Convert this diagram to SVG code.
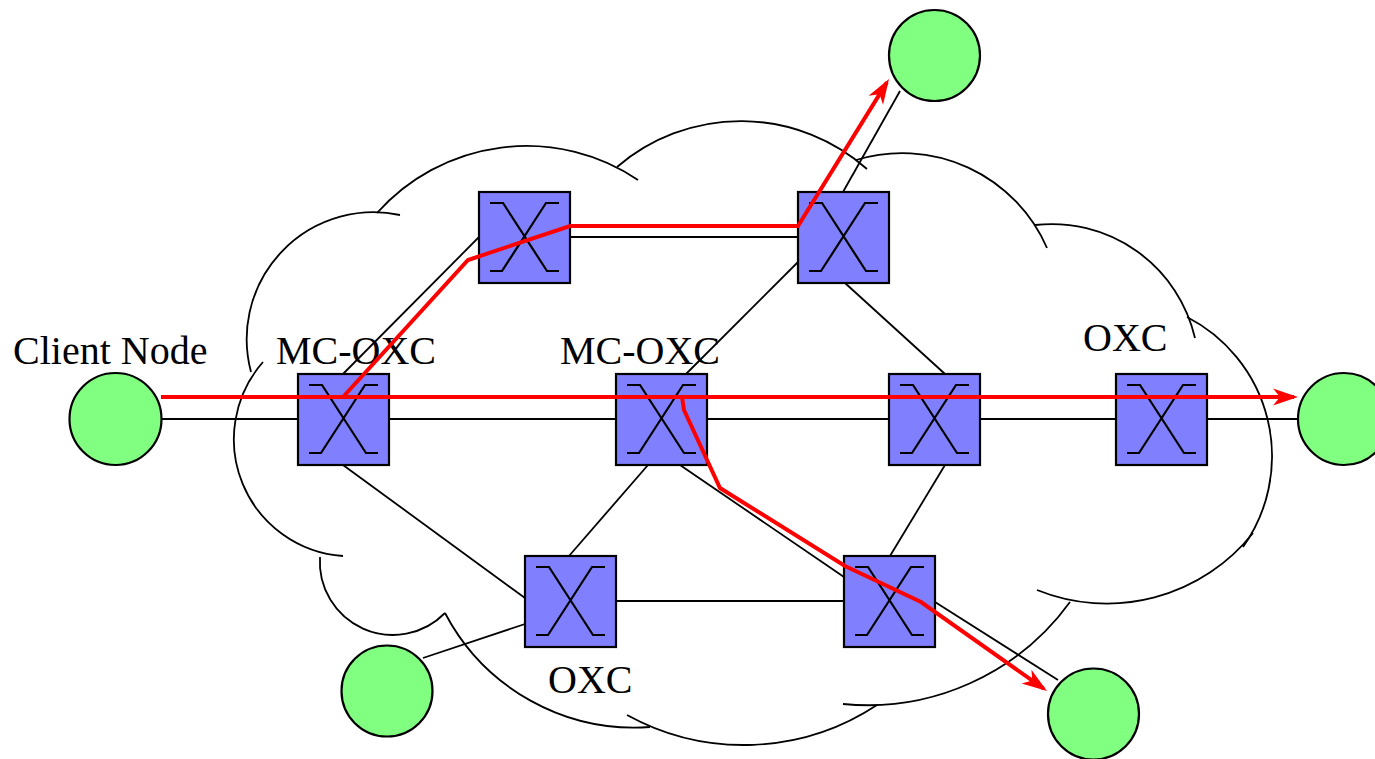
<svg xmlns="http://www.w3.org/2000/svg" xmlns:xlink="http://www.w3.org/1999/xlink" width="1375" height="759" viewBox="0 0 1375 759">
  <style>
    .cloud { fill: none; stroke: #000; stroke-width: 1.8; }
    .link { fill: none; stroke: #000; stroke-width: 1.8; }
    .box { fill: #8080ff; stroke: #000; stroke-width: 2.2; }
    .glyph { fill: none; stroke: #000; stroke-width: 2.2; }
    .client { fill: #80ff80; stroke: #000; stroke-width: 2.2; }
    .path { fill: none; stroke: #ff0000; stroke-width: 4; stroke-linejoin: miter; marker-end: url(#arrow); }
    .label { font-family: "Liberation Serif", "Times New Roman", serif; font-size: 40px; fill: #000; }
  </style>
  <defs>
    <marker id="arrow" markerUnits="userSpaceOnUse" markerWidth="30" markerHeight="22" viewBox="-22 -11 30 22" refX="0" refY="0" orient="auto">
      <path d="M4,0 L-21,-8.5 L-14,0 L-21,8.5 Z" fill="#ff0000"/>
    </marker>
    <!-- optical cross-connect: square with crossed switch glyph -->
    <g id="xc">
      <rect class="box" x="0" y="0" width="91" height="91"/>
      <path class="glyph" d="M11,11 H24 L68,79 H80 M80,11 H67 L23,79 H11"/>
    </g>
  </defs>

  <!-- network cloud built from overlapping arcs -->
  <g id="cloud">
    <path class="cloud" d="M251,372 A127,127 0 0 1 400,215"/>
    <path class="cloud" d="M377,213 A200,200 0 0 1 638,180"/>
    <path class="cloud" d="M617,167 A190,190 0 0 1 867,169"/>
    <path class="cloud" d="M856,160 A158,158 0 0 1 1047,248"/>
    <path class="cloud" d="M1035,225 A147,147 0 0 1 1195,338"/>
    <path class="cloud" d="M1187,317 A156.5,156.5 0 0 1 1243,547"/>
    <path class="cloud" d="M1253,533 A186.5,186.5 0 0 1 1037,590"/>
    <path class="cloud" d="M1070,602 A250,250 0 0 1 843,704"/>
    <path class="cloud" d="M877,705 A242,242 0 0 1 627,715"/>
    <path class="cloud" d="M650,727 A214,214 0 0 1 445,613"/>
    <path class="cloud" d="M445,613 A73,73 0 0 1 320,557"/>
    <path class="cloud" d="M343,556 A117,117 0 0 1 263,362"/>
  </g>

  <!-- fibre links -->
  <g id="connectors">
    <line class="link" x1="161" y1="419" x2="298" y2="419"/>
    <line class="link" x1="389" y1="419" x2="616" y2="419"/>
    <line class="link" x1="707" y1="419" x2="889" y2="419"/>
    <line class="link" x1="980" y1="419" x2="1116" y2="419"/>
    <line class="link" x1="1207" y1="419" x2="1298" y2="419"/>
    <line class="link" x1="343" y1="374" x2="479" y2="237"/>
    <line class="link" x1="570" y1="237" x2="798" y2="237"/>
    <line class="link" x1="843" y1="192" x2="900" y2="91"/>
    <line class="link" x1="798" y1="262" x2="686" y2="374"/>
    <line class="link" x1="845" y1="283" x2="945" y2="374"/>
    <line class="link" x1="648" y1="465" x2="569" y2="556"/>
    <line class="link" x1="680" y1="465" x2="844" y2="577"/>
    <line class="link" x1="945" y1="465" x2="890" y2="556"/>
    <line class="link" x1="343" y1="465" x2="525" y2="598"/>
    <line class="link" x1="616" y1="601" x2="844" y2="601"/>
    <line class="link" x1="935" y1="602" x2="1058" y2="680"/>
    <line class="link" x1="423" y1="658" x2="525" y2="624"/>
  </g>

  <!-- client nodes -->
  <g id="client-left">
    <circle class="client" cx="115.5" cy="419" r="46"/>
    <text class="label" x="13" y="364">Client Node</text>
  </g>
  <g id="client-top"><circle class="client" cx="934.5" cy="55.5" r="45.5"/></g>
  <g id="client-right"><circle class="client" cx="1344" cy="419" r="46"/></g>
  <g id="client-bottom-left"><circle class="client" cx="387" cy="691" r="45.5"/></g>
  <g id="client-bottom-right"><circle class="client" cx="1093.5" cy="714" r="45.5"/></g>

  <!-- cross-connects -->
  <g id="mc-oxc-west">
    <use xlink:href="#xc" x="298" y="374"/>
    <text class="label" x="276" y="364">MC-OXC</text>
  </g>
  <g id="oxc-north-west"><use xlink:href="#xc" x="479" y="192"/></g>
  <g id="oxc-north-east"><use xlink:href="#xc" x="798" y="192"/></g>
  <g id="mc-oxc-centre">
    <use xlink:href="#xc" x="616" y="374"/>
    <text class="label" x="560" y="364">MC-OXC</text>
  </g>
  <g id="oxc-east"><use xlink:href="#xc" x="889" y="374"/></g>
  <g id="oxc-far-east">
    <use xlink:href="#xc" x="1116" y="374"/>
    <text class="label" x="1083" y="351">OXC</text>
  </g>
  <g id="oxc-south-west">
    <use xlink:href="#xc" x="525" y="556"/>
    <text class="label" x="548" y="693">OXC</text>
  </g>
  <g id="oxc-south-east"><use xlink:href="#xc" x="844" y="556"/></g>

  <!-- multicast light-paths -->
  <g id="lightpaths">
    <path class="path" d="M161,397 H1294"/>
    <path class="path" d="M343,397 L468,260 L570,226 L798,226 L886.9,82.4"/>
    <path class="path" d="M682,397 L684,410 L720,488 L845,566 L921,602 L1043.7,688.7"/>
  </g>
</svg>
